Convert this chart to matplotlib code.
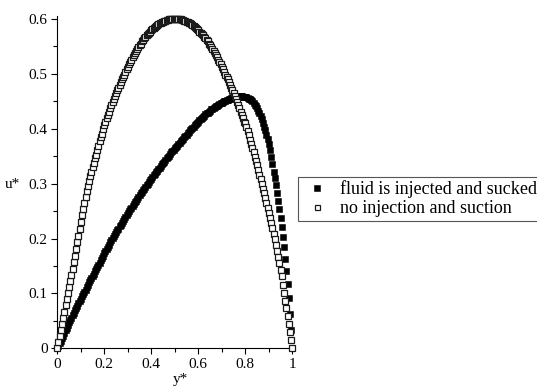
import matplotlib
matplotlib.use("Agg")
import matplotlib.pyplot as plt
from matplotlib.ticker import MultipleLocator
import numpy as np

# y* grid of the plotted points (step 0.005)
y_star = np.linspace(0, 1, 201)

# u* - fluid is injected and sucked (filled squares)
u_injected = [
    0.000, 0.005, 0.009, 0.014, 0.019, 0.023, 0.028, 0.033, 0.037, 0.042,
    0.047, 0.051, 0.055, 0.060, 0.064, 0.069, 0.073, 0.077, 0.082, 0.086,
    0.090, 0.095, 0.099, 0.103, 0.107, 0.112, 0.116, 0.120, 0.124, 0.128,
    0.132, 0.136, 0.140, 0.144, 0.148, 0.152, 0.156, 0.160, 0.165, 0.169,
    0.173, 0.177, 0.181, 0.185, 0.189, 0.193, 0.197, 0.201, 0.204, 0.208,
    0.211, 0.215, 0.218, 0.222, 0.225, 0.229, 0.232, 0.236, 0.239, 0.243,
    0.247, 0.250, 0.253, 0.256, 0.260, 0.263, 0.266, 0.269, 0.272, 0.275,
    0.279, 0.282, 0.285, 0.288, 0.291, 0.294, 0.298, 0.300, 0.303, 0.306,
    0.309, 0.312, 0.315, 0.318, 0.321, 0.323, 0.326, 0.329, 0.332, 0.335,
    0.338, 0.340, 0.343, 0.346, 0.349, 0.351, 0.354, 0.357, 0.359, 0.362,
    0.364, 0.367, 0.369, 0.372, 0.374, 0.377, 0.379, 0.382, 0.384, 0.387,
    0.389, 0.392, 0.394, 0.397, 0.399, 0.401, 0.404, 0.406, 0.409, 0.411,
    0.413, 0.415, 0.418, 0.420, 0.422, 0.424, 0.426, 0.428, 0.429, 0.431,
    0.433, 0.435, 0.436, 0.438, 0.439, 0.441, 0.442, 0.444, 0.445, 0.446,
    0.447, 0.449, 0.450, 0.451, 0.452, 0.453, 0.454, 0.455, 0.456, 0.457,
    0.457, 0.458, 0.458, 0.459, 0.459, 0.459, 0.459, 0.459, 0.458, 0.458,
    0.458, 0.457, 0.456, 0.455, 0.454, 0.452, 0.450, 0.447, 0.444, 0.441,
    0.437, 0.433, 0.428, 0.423, 0.417, 0.411, 0.404, 0.397, 0.389, 0.381,
    0.372, 0.362, 0.349, 0.336, 0.322, 0.310, 0.297, 0.283, 0.269, 0.254,
    0.238, 0.221, 0.203, 0.184, 0.163, 0.141, 0.117, 0.091, 0.063, 0.033,
    0.000,
]

# u* - no injection and suction (open squares)
u_plain = [
    0.000, 0.011, 0.022, 0.034, 0.045, 0.056, 0.067, 0.079, 0.090, 0.101,
    0.112, 0.123, 0.134, 0.145, 0.157, 0.168, 0.180, 0.193, 0.205, 0.218,
    0.230, 0.242, 0.254, 0.265, 0.276, 0.286, 0.295, 0.304, 0.313, 0.322,
    0.330, 0.338, 0.346, 0.353, 0.361, 0.369, 0.377, 0.384, 0.391, 0.399,
    0.406, 0.412, 0.419, 0.425, 0.431, 0.437, 0.444, 0.449, 0.455, 0.460,
    0.465, 0.470, 0.475, 0.480, 0.485, 0.490, 0.494, 0.498, 0.503, 0.508,
    0.512, 0.517, 0.521, 0.526, 0.530, 0.534, 0.538, 0.542, 0.545, 0.549,
    0.552, 0.555, 0.559, 0.562, 0.565, 0.567, 0.570, 0.573, 0.575, 0.577,
    0.580, 0.582, 0.584, 0.586, 0.587, 0.589, 0.590, 0.592, 0.593, 0.594,
    0.595, 0.596, 0.597, 0.598, 0.598, 0.599, 0.599, 0.600, 0.600, 0.600,
    0.600, 0.600, 0.600, 0.600, 0.599, 0.599, 0.598, 0.598, 0.597, 0.596,
    0.595, 0.594, 0.593, 0.592, 0.590, 0.589, 0.587, 0.586, 0.584, 0.582,
    0.580, 0.577, 0.575, 0.573, 0.570, 0.567, 0.565, 0.562, 0.559, 0.555,
    0.552, 0.549, 0.545, 0.542, 0.538, 0.534, 0.530, 0.526, 0.521, 0.517,
    0.512, 0.508, 0.503, 0.498, 0.494, 0.490, 0.485, 0.480, 0.475, 0.470,
    0.465, 0.460, 0.455, 0.449, 0.444, 0.437, 0.431, 0.425, 0.419, 0.412,
    0.410, 0.403, 0.395, 0.388, 0.380, 0.372, 0.364, 0.357, 0.349, 0.341,
    0.333, 0.324, 0.316, 0.308, 0.300, 0.291, 0.282, 0.274, 0.265, 0.256,
    0.247, 0.238, 0.228, 0.219, 0.209, 0.199, 0.189, 0.178, 0.167, 0.155,
    0.143, 0.131, 0.115, 0.101, 0.087, 0.073, 0.059, 0.045, 0.030, 0.015,
    0.000,
]

labels = ["fluid is injected and sucked", "no injection and suction"]

plt.rcParams["font.family"] = ["Liberation Serif", "DejaVu Serif"]

W, H = 537, 387
fig = plt.figure(figsize=(W / 100, H / 100), dpi=100)
# axes placed in pixels: x 0..1 -> 57.3..292.3, y 0..0.6 -> 348.3..19
x0, x1 = 57.3, 292.3
ytop = 348.3 - 0.606 * 549
ax = fig.add_axes([x0 / W, (H - 348.3) / H, (x1 - x0) / W, (348.3 - ytop) / H])
ax.set_xlim(0, 1)
ax.set_ylim(0, 0.606)

h1, = ax.plot(y_star, u_injected, ls="none", marker="s", ms=4.4,
              mfc="black", mec="black", mew=0.4, clip_on=False, zorder=3)
h2, = ax.plot(y_star, u_plain, ls="none", marker="s", ms=4.0,
              mfc="white", mec="#1a1a1a", mew=0.9, clip_on=False, zorder=4)

for s in ["top", "right"]:
    ax.spines[s].set_visible(False)
for s in ["left", "bottom"]:
    ax.spines[s].set_linewidth(0.8)

ax.xaxis.set_major_locator(MultipleLocator(0.2))
ax.xaxis.set_minor_locator(MultipleLocator(0.1))
ax.yaxis.set_major_locator(MultipleLocator(0.1))
ax.yaxis.set_minor_locator(MultipleLocator(0.05))
ax.xaxis.set_major_formatter(lambda v, p: "0" if v == 0 else ("1" if abs(v - 1) < 1e-9 else f"{v:.1f}"))
ax.yaxis.set_major_formatter(lambda v, p: "0" if v == 0 else f"{v:.1f}")
ax.tick_params(which="major", length=4, width=0.8, labelsize=11, pad=3)
ax.tick_params(which="minor", length=3, width=0.8)

fig.text(12 / W, 1 - 184 / H, "u*", fontsize=11, ha="center", va="center")
fig.text(180 / W, 1 - 380 / H, "y*", fontsize=11, ha="center", va="center")

leg = fig.legend([h1, h2], labels, loc="upper left",
                 bbox_to_anchor=(297.5 / W, 1 - 177 / H), borderaxespad=0,
                 fontsize=13, fancybox=False, framealpha=1, edgecolor="#555555",
                 handlelength=1.8, handletextpad=0.35, borderpad=0.2,
                 labelspacing=0.1, markerscale=0.9)
leg.get_frame().set_linewidth(0.8)

fig.savefig("out.png", dpi=100)
